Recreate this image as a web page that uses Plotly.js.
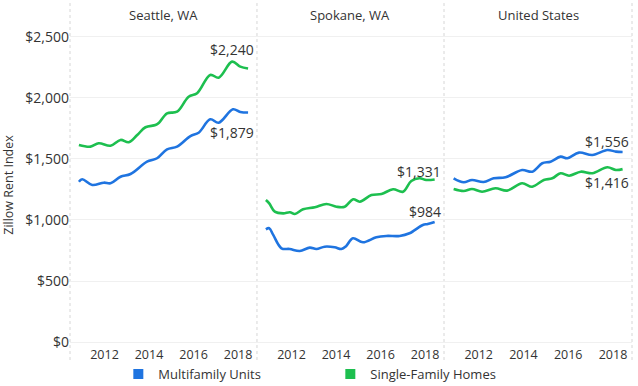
<!DOCTYPE html>
<html>
<head>
<meta charset="utf-8">
<script src="https://cdn.plot.ly/plotly-3.0.1.min.js"></script>
<style>html,body{margin:0;padding:0;background:#fff;}#chart{width:638px;height:386px;}</style>
</head>
<body>
<div id="chart"></div>
<script>
// ---- Data ----
const panels = ["Seattle, WA", "Spokane, WA", "United States"];
const seriesNames = ["Multifamily Units", "Single-Family Homes"];
const tickYears = [2012, 2014, 2016, 2018];
const yTicks = [0, 500, 1000, 1500, 2000, 2500];

const seattleMultiX = [2010.85, 2011.0, 2011.45, 2011.97, 2012.27, 2012.72, 2013.17, 2013.91, 2014.36, 2014.81, 2015.26, 2015.86, 2016.23, 2016.75, 2017.13, 2017.77, 2018.1, 2018.45];
const seattleMultiY = [1313, 1333, 1286, 1305, 1300, 1354, 1376, 1477, 1505, 1578, 1600, 1687, 1714, 1824, 1796, 1906, 1884, 1879];
const seattleSingleX = [2010.85, 2011.37, 2011.74, 2012.27, 2012.72, 2013.09, 2013.47, 2013.84, 2014.29, 2014.45, 2014.81, 2015.26, 2015.78, 2016.16, 2016.75, 2017.13, 2017.73, 2018.1, 2018.45];
const seattleSingleY = [1614, 1600, 1628, 1608, 1655, 1636, 1695, 1759, 1777, 1796, 1873, 1886, 2009, 2037, 2187, 2165, 2296, 2255, 2240];

const spokaneMultiX = [2010.85, 2011.0, 2011.18, 2011.55, 2011.92, 2012.37, 2012.82, 2013.12, 2013.49, 2013.94, 2014.24, 2014.45, 2014.76, 2015.21, 2015.81, 2016.26, 2016.86, 2017.3, 2017.9, 2018.12, 2018.43];
const spokaneMultiY = [923, 932, 877, 768, 762, 746, 773, 762, 781, 776, 762, 785, 850, 817, 858, 869, 869, 891, 959, 967, 984];
const spokaneSingleX = [2010.85, 2011.0, 2011.25, 2011.63, 2011.93, 2012.15, 2012.52, 2013.05, 2013.57, 2014.02, 2014.39, 2014.77, 2015.07, 2015.59, 2016.04, 2016.56, 2017.01, 2017.38, 2017.75, 2018.05, 2018.43];
const spokaneSingleY = [1163, 1136, 1068, 1054, 1063, 1049, 1087, 1104, 1131, 1108, 1108, 1169, 1149, 1204, 1212, 1251, 1231, 1319, 1341, 1327, 1331];

const usMultiX = [2010.88, 2011.33, 2011.7, 2012.22, 2012.67, 2013.2, 2013.94, 2014.39, 2014.84, 2015.21, 2015.66, 2015.96, 2016.48, 2017.08, 2017.75, 2018.13, 2018.43];
const usMultiY = [1341, 1308, 1327, 1311, 1341, 1349, 1409, 1395, 1464, 1477, 1518, 1505, 1551, 1532, 1573, 1559, 1556];
const usSingleX = [2010.88, 2011.33, 2011.7, 2012.15, 2012.75, 2013.27, 2013.94, 2014.39, 2014.91, 2015.29, 2015.66, 2016.04, 2016.56, 2017.08, 2017.75, 2018.13, 2018.43];
const usSingleY = [1253, 1237, 1253, 1231, 1259, 1240, 1300, 1272, 1327, 1341, 1382, 1362, 1395, 1382, 1431, 1409, 1416];

// ---- Styling ----
const BLUE = "#1f74e0";
const GREEN = "#1dbf4f";
const FONT = "Open Sans, Lato, sans-serif";
const TXT = "#333333";
const colors = [BLUE, GREEN];

const panelData = [
  [[seattleMultiX, seattleMultiY], [seattleSingleX, seattleSingleY]],
  [[spokaneMultiX, spokaneMultiY], [spokaneSingleX, spokaneSingleY]],
  [[usMultiX, usMultiY], [usSingleX, usSingleY]]
];
// pixel shift of the end-value labels relative to the final point
const labelShift = [[-20, 19], [10, 8], [11, -13]];

const domains = [[0, 0.3327], [0.3327, 0.6655], [0.6655, 1]];
const traces = [];
const annotations = [];
const layout = {
  width: 638, height: 386,
  margin: {l: 70, r: 6, t: 25, b: 41, autoexpand: false},
  paper_bgcolor: "#fff", plot_bgcolor: "#fff",
  font: {family: FONT, color: TXT, size: 12},
  showlegend: true,
  legend: {orientation: "h", x: 0.086, xanchor: "left", y: -0.0906, yanchor: "middle",
           font: {size: 13, color: TXT}, entrywidth: 167, entrywidthmode: "pixels",
           itemwidth: 30, bgcolor: "rgba(0,0,0,0)"},
  shapes: [],
  annotations: annotations
};

panelData.forEach((pd, p) => {
  const xa = p === 0 ? "x" : "x" + (p + 1);
  const ya = p === 0 ? "y" : "y" + (p + 1);
  const xKey = p === 0 ? "xaxis" : "xaxis" + (p + 1);
  const yKey = p === 0 ? "yaxis" : "yaxis" + (p + 1);
  layout[xKey] = {
    domain: domains[p], anchor: ya, range: [2010.45, 2018.85],
    tickvals: tickYears, ticktext: tickYears.map(String),
    showgrid: false, zeroline: false, showline: false, ticks: "",
    tickfont: {size: 12.5, color: TXT}, fixedrange: true
  };
  layout[yKey] = {
    anchor: xa, range: [-24, 2596],
    tickvals: yTicks, ticktext: yTicks.map(v => "$" + v.toLocaleString("en-US")),
    showticklabels: p === 0, gridcolor: "#f0f0f0", gridwidth: 1,
    zeroline: false, showline: false, ticks: "",
    tickfont: {size: 14, color: TXT}, fixedrange: true
  };
  if (p === 0) {
    layout[yKey].title = {text: "Zillow Rent Index", font: {size: 12.5, color: TXT}, standoff: 8};
  }
  pd.forEach((s, k) => {
    traces.push({
      type: "scatter", mode: "lines", x: s[0], y: s[1], xaxis: xa, yaxis: ya,
      line: {color: colors[k], width: 2.6, shape: "spline", smoothing: 1},
      showlegend: false, hoverinfo: "skip"
    });
    const lastY = s[1][s[1].length - 1];
    annotations.push({
      xref: xa, yref: ya, x: 2018.8, y: lastY, xanchor: "right", yanchor: "middle",
      yshift: labelShift[p][k], showarrow: false,
      text: "$" + lastY.toLocaleString("en-US"), font: {size: 14, color: TXT}
    });
  });
  annotations.push({
    xref: xa + " domain", yref: "paper", x: 0.5, y: 1, yanchor: "middle", yshift: 10,
    showarrow: false, text: panels[p], font: {size: 13, color: TXT}
  });
});

// dotted panel separators
[0, 0.3327, 0.6655, 1].forEach(x => {
  layout.shapes.push({type: "line", xref: "paper", yref: "paper", x0: x, x1: x, y0: -0.047, y1: 1.078,
    line: {color: "#d6d6d6", width: 1, dash: "dot"}, layer: "below"});
});

// legend entries (square markers)
seriesNames.forEach((n, k) => {
  traces.push({type: "scatter", mode: "markers", x: [null], y: [null], name: n,
    marker: {symbol: "square", size: 10, color: colors[k]}, showlegend: true, hoverinfo: "skip"});
});

Plotly.newPlot("chart", traces, layout, {staticPlot: true, displayModeBar: false});
</script>
</body>
</html>
